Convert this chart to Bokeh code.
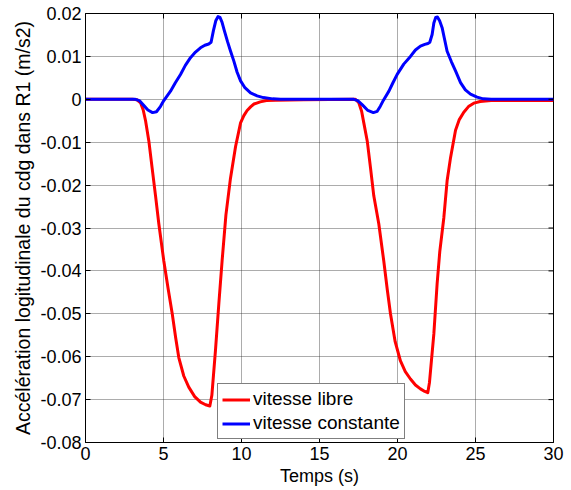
import math
from bokeh.plotting import figure
from bokeh.models import FixedTicker, Legend, LegendItem
from bokeh.embed import file_html
from bokeh.resources import INLINE

# ---- data ----
t_libre = [0, 3.0, 3.3, 3.53, 3.7, 3.85, 4.06, 4.27, 4.49, 4.70, 5.02, 5.3, 5.56, 5.78,
           5.98, 6.3, 6.62, 7.0, 7.37, 7.7, 7.97, 8.1, 8.33, 8.55, 8.76, 9.0, 9.29, 9.62,
           9.94, 10.15, 10.36, 10.6, 10.8, 11.2, 11.6, 12.2, 14.0, 17.3, 17.52, 17.7,
           17.84, 18.06, 18.27, 18.48, 18.8, 19.12, 19.35, 19.55, 19.85, 20.19, 20.5,
           20.83, 21.15, 21.47, 21.75, 21.94, 22.05, 22.33, 22.54, 22.71, 22.97, 23.18,
           23.4, 23.72, 23.95, 24.25, 24.55, 24.89, 25.3, 26.0, 30.0]
v_libre = [0, 0, -0.0001, -0.0008, -0.0025, -0.005, -0.0097, -0.016, -0.0225, -0.029,
           -0.0377, -0.0442, -0.050, -0.0556, -0.0602, -0.0645, -0.0671, -0.0693, -0.0706,
           -0.0712, -0.0715, -0.0690, -0.0586, -0.0475, -0.0375, -0.027, -0.0185, -0.011,
           -0.0055, -0.0038, -0.0026, -0.0017, -0.0011, -0.0006, -0.0003, -0.0002, -0.0001,
           0, -0.0008, -0.0028, -0.0055, -0.0097, -0.016, -0.0225, -0.029, -0.0377, -0.0445,
           -0.050, -0.0565, -0.061, -0.0635, -0.0652, -0.0666, -0.0675, -0.0681, -0.0684,
           -0.066, -0.0547, -0.043, -0.0355, -0.0276, -0.019, -0.0136, -0.0072, -0.0048,
           -0.003, -0.0017, -0.0009, -0.0005, -0.0003, -0.0003]

t_const = [0, 3.2, 3.45, 3.7, 4.0, 4.3, 4.55, 4.8, 5.02, 5.45, 5.75, 6.09, 6.4, 6.73, 7.05,
           7.37, 7.65, 7.9, 8.05, 8.2, 8.35, 8.5, 8.62, 8.75, 8.9, 9.1, 9.3, 9.51, 9.72,
           9.94, 10.2, 10.58, 11.0, 11.4, 12.0, 12.5, 17.2, 17.45, 17.75, 18.1, 18.45, 18.7,
           18.9, 19.1, 19.45, 19.7, 19.98, 20.4, 20.83, 21.15, 21.47, 21.75, 21.95, 22.07,
           22.22, 22.33, 22.45, 22.56, 22.7, 22.86, 23.0, 23.18, 23.45, 23.72, 24.04, 24.35,
           24.68, 25.1, 25.5, 26.0, 30.0]
v_const = [0, 0, -0.0003, -0.0013, -0.0025, -0.0031, -0.0029, -0.0017, -0.0003, 0.0019,
           0.0038, 0.0058, 0.0079, 0.0097, 0.0110, 0.0120, 0.0126, 0.0129, 0.0133, 0.0160,
           0.0183, 0.0193, 0.0191, 0.0180, 0.0160, 0.0135, 0.0112, 0.0089, 0.0063, 0.0043,
           0.0028, 0.0015, 0.0008, 0.0004, 0.0001, 0, 0, -0.0003, -0.0013, -0.0026, -0.0031,
           -0.0028, -0.0016, -0.0002, 0.0019, 0.0038, 0.0058, 0.0082, 0.0100, 0.0115,
           0.0124, 0.0128, 0.0130, 0.0133, 0.0151, 0.0178, 0.0191, 0.0192, 0.0183, 0.0167,
           0.0143, 0.0112, 0.0088, 0.0066, 0.0039, 0.0022, 0.0012, 0.0005, 0.0001, 0, 0]

x_ticks = [0, 5, 10, 15, 20, 25, 30]
x_labels = ["0", "5", "10", "15", "20", "25", "30"]
y_ticks = [-0.08, -0.07, -0.06, -0.05, -0.04, -0.03, -0.02, -0.01, 0, 0.01, 0.02]
y_labels = ["-0.08", "-0.07", "-0.06", "-0.05", "-0.04", "-0.03", "-0.02", "-0.01",
            "0", "0.01", "0.02"]

series_names = ["vitesse libre", "vitesse constante"]
series_colors = ["#ff0000", "#0000ff"]

FONT = "Liberation Sans"
FS = "18px"

x0, x1 = x_ticks[0], x_ticks[-1]
y0, y1 = y_ticks[0], y_ticks[-1]

p = figure(frame_width=468, frame_height=429, x_range=(x0, x1), y_range=(y0, y1),
           output_backend="svg", toolbar_location=None,
           min_border_left=85, min_border_top=13, min_border_right=12, min_border_bottom=40,
           background_fill_color="white", border_fill_color="white")
p.outline_line_color = "black"
p.outline_line_width = 1

p.xgrid.ticker = FixedTicker(ticks=x_ticks)
p.ygrid.ticker = FixedTicker(ticks=y_ticks)
for g in (p.xgrid[0], p.ygrid[0]):
    g.grid_line_color = "#303030"
    g.grid_line_alpha = 0.8
    g.grid_line_dash = "1 1"
    g.grid_line_width = 1

r1 = p.line(t_libre, v_libre, color=series_colors[0], line_width=3, line_join="round")
r2 = p.line(t_const, v_const, color=series_colors[1], line_width=3, line_join="round")

# inward tick marks on the top and right edges (box on)
p.ray(x=x_ticks, y=[y1] * len(x_ticks), length=5, length_units="screen",
      angle=-math.pi / 2, color="black", line_width=1)
p.ray(x=[x1] * len(y_ticks), y=y_ticks, length=5, length_units="screen",
      angle=math.pi, color="black", line_width=1)

for ax, ticks, labels in ((p.xaxis[0], x_ticks, x_labels), (p.yaxis[0], y_ticks, y_labels)):
    ax.ticker = FixedTicker(ticks=ticks)
    ax.major_label_overrides = {k: l for k, l in zip(ticks, labels)}
    ax.major_label_text_font = FONT
    ax.major_label_text_font_size = FS
    ax.major_label_text_color = "black"
    ax.axis_label_text_font = FONT
    ax.axis_label_text_font_style = "normal"
    ax.axis_label_text_color = "black"
    ax.major_tick_in = 5
    ax.major_tick_out = 0
    ax.minor_tick_line_color = None
    ax.axis_line_color = "black"
    ax.major_tick_line_color = "black"
    ax.major_label_standoff = 4

p.xaxis[0].axis_label = "Temps (s)"
p.xaxis[0].axis_label_text_font_size = "18px"
p.xaxis[0].axis_label_standoff = 3
p.yaxis[0].axis_label = "Accélération logitudinale du cdg dans R1 (m/s2)"
p.yaxis[0].axis_label_text_font_size = "19.5px"
p.yaxis[0].axis_label_standoff = 3

legend = Legend(items=[LegendItem(label=series_names[0], renderers=[r1]),
                       LegendItem(label=series_names[1], renderers=[r2])],
                location=(132, 3))
legend.label_text_font = FONT
legend.label_text_font_size = "19px"
legend.label_text_color = "black"
legend.border_line_color = "black"
legend.border_line_width = 1
legend.background_fill_color = "white"
legend.background_fill_alpha = 1
legend.padding = 4
legend.spacing = 2
legend.margin = 0
legend.label_height = 21
legend.glyph_height = 21
legend.glyph_width = 28
legend.label_standoff = 3
p.add_layout(legend, "center")

open("out.html", "w").write(file_html(p, INLINE))
